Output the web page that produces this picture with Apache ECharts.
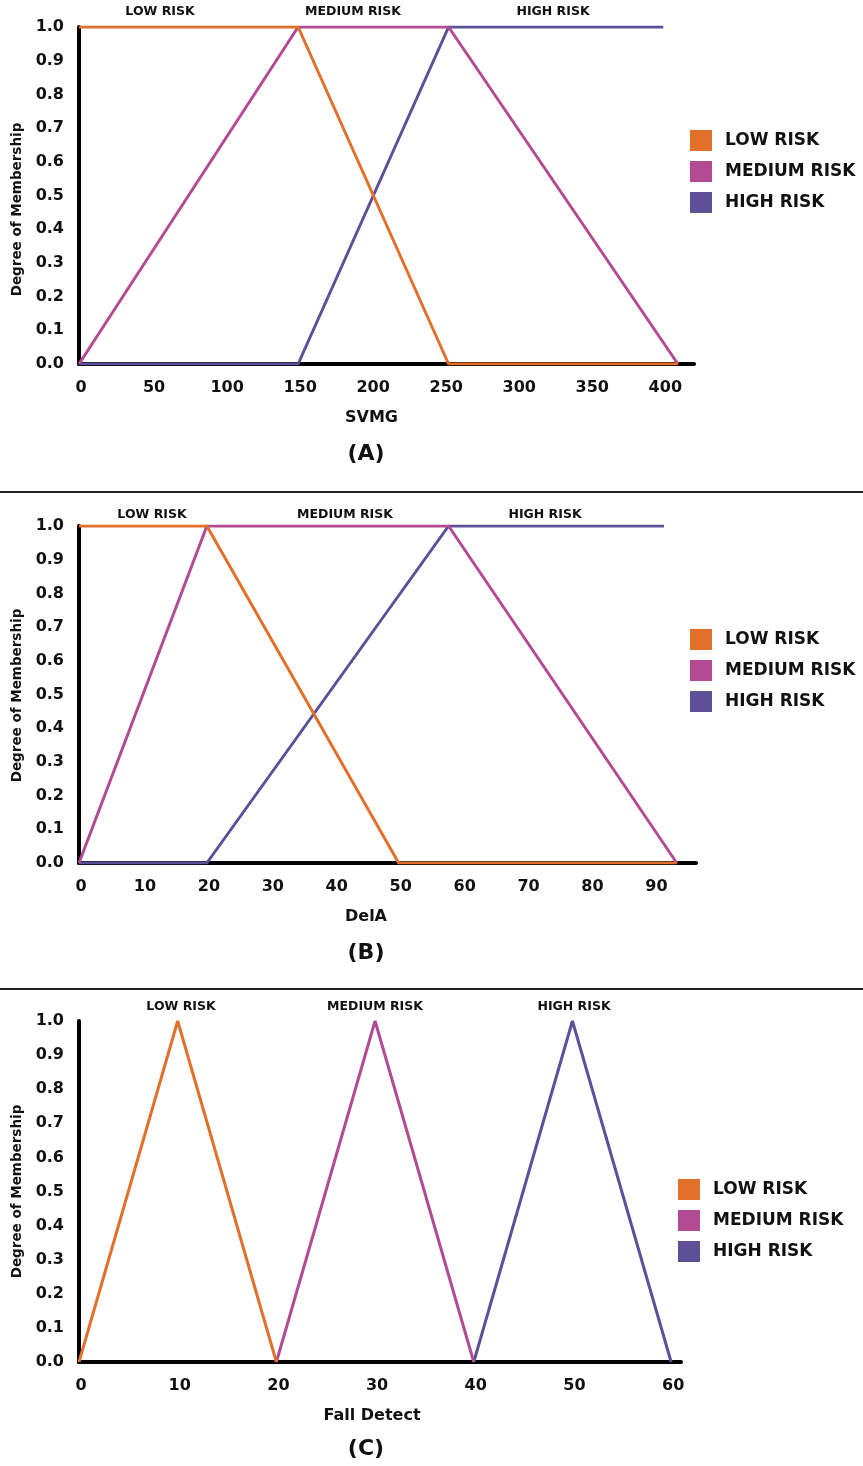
<!DOCTYPE html>
<html><head><meta charset="utf-8">
<script src="https://cdn.jsdelivr.net/npm/echarts@6/dist/echarts.min.js"></script>
<style>html,body{margin:0;padding:0;background:#fff}#c{width:863px;height:1466px}</style>
</head><body><div id="c"></div>
<script>
// ---- Data ----
const riskNames = ['LOW RISK', 'MEDIUM RISK', 'HIGH RISK'];
const riskColors = ['#E2702A', '#B24B94', '#5E5098'];
const yTicks = [0, 0.1, 0.2, 0.3, 0.4, 0.5, 0.6, 0.7, 0.8, 0.9, 1.0];

// Panel A: SVMG
const svmgTicks = [0, 50, 100, 150, 200, 250, 300, 350, 400];
const svmgLow = [[0, 1], [150, 1], [253, 0], [410, 0]];
const svmgMedium = [[0, 0], [150, 1], [253, 1], [410, 0]];
const svmgHigh = [[0, 0], [150, 0], [253, 1], [400, 1]];

// Panel B: DelA
const delaTicks = [0, 10, 20, 30, 40, 50, 60, 70, 80, 90];
const delaLow = [[0, 1], [20, 1], [50, 0], [93.5, 0]];
const delaMedium = [[0, 0], [20, 1], [57.8, 1], [93.5, 0]];
const delaHigh = [[0, 0], [20, 0], [57.8, 1], [91.5, 1]];

// Panel C: Fall Detect
const fallTicks = [0, 10, 20, 30, 40, 50, 60];
const fallLow = [[0, 0], [10, 1], [20, 0]];
const fallMedium = [[20, 0], [30, 1], [40, 0]];
const fallHigh = [[40, 0], [50, 1], [60, 0]];

const FONT = 'DejaVu Sans';
const panels = [
  {name: 'SVMG', tag: '(A)', ticks: svmgTicks, max: 421, series: [svmgLow, svmgMedium, svmgHigh],
   grid: {left: 79, top: 27, width: 615, height: 337}, namePad: [0, 30, 0, 0], yNamePad: [0, 28, 0, 0],
   top: [160, 353, 553], topY: 12, legendTop: 125, legendLeft: 685, tagY: 454},
  {name: 'DelA', tag: '(B)', ticks: delaTicks, max: 96.5, series: [delaLow, delaMedium, delaHigh],
   grid: {left: 79, top: 526, width: 617, height: 337}, namePad: [0, 43, 0, 0], yNamePad: [0, 2, 0, 0],
   top: [152, 345, 545], topY: 515, legendTop: 624, legendLeft: 685, tagY: 953},
  {name: 'Fall Detect', tag: '(C)', ticks: fallTicks, max: 61, series: [fallLow, fallMedium, fallHigh],
   grid: {left: 79, top: 1021, width: 602, height: 341}, namePad: [0, 16, 0, 0], yNamePad: [0, 0, 0, 0],
   top: [181, 375, 574], topY: 1007, legendTop: 1174, legendLeft: 673, tagY: 1449}
];

const chart = echarts.init(document.getElementById('c'));
const grids = [], xAxes = [], yAxes = [], series = [], legends = [], graphics = [];
panels.forEach((p, i) => {
  grids.push(Object.assign({containLabel: false}, p.grid));
  xAxes.push({
    type: 'value', gridIndex: i, min: 0, max: p.max, interval: p.ticks[1] - p.ticks[0],
    splitLine: {show: false}, axisTick: {show: false},
    axisLine: {show: true, onZero: false, lineStyle: {color: '#000', width: 4}},
    axisLabel: {show: true, margin: 16, color: '#111', fontFamily: FONT, fontWeight: 'bold', fontSize: 16,
      padding: [0, 0, 0, 4], showMaxLabel: false,
      formatter: v => (p.ticks.indexOf(v) >= 0 ? String(v) : '')},
    name: p.name, nameLocation: 'middle', nameGap: 46,
    nameTextStyle: {color: '#111', fontFamily: FONT, fontWeight: 'bold', fontSize: 16, padding: p.namePad}
  });
  yAxes.push({
    type: 'value', gridIndex: i, min: 0, max: 1, interval: 0.1,
    splitLine: {show: false}, axisTick: {show: false},
    axisLine: {show: true, lineStyle: {color: '#000', width: 4}},
    axisLabel: {margin: 15, color: '#111', fontFamily: FONT, fontWeight: 'bold', fontSize: 16,
      formatter: v => (yTicks.some(t => Math.abs(t - v) < 1e-9) ? v.toFixed(1) : '')},
    name: 'Degree of Membership', nameLocation: 'middle', nameGap: 52,
    nameTextStyle: {color: '#111', fontFamily: FONT, fontWeight: 'bold', fontSize: 13.5, padding: p.yNamePad}
  });
  p.series.forEach((d, k) => {
    series.push({
      type: 'line', name: riskNames[k], xAxisIndex: i, yAxisIndex: i, data: d,
      symbol: 'none', lineStyle: {width: 3, color: riskColors[k]}, itemStyle: {color: riskColors[k]},
      z: 3 + (k === 2 ? 0 : k === 0 ? 2 : 1), animation: false
    });
  });
  legends.push({
    orient: 'vertical', left: p.legendLeft, top: p.legendTop, itemWidth: 22, itemHeight: 21, itemGap: 10,
    icon: 'rect', data: riskNames, selectedMode: false,
    textStyle: {color: '#111', fontFamily: FONT, fontWeight: 'bold', fontSize: 17, padding: [0, 0, 0, 8]}
  });
  p.top.forEach((x, k) => {
    graphics.push({type: 'text', x: x, y: p.topY, style: {text: riskNames[k], fill: '#111',
      font: 'bold 12.5px "' + FONT + '"', textAlign: 'center', textVerticalAlign: 'middle'}});
  });
  graphics.push({type: 'text', x: 366, y: p.tagY, style: {text: p.tag, fill: '#111',
    font: 'bold 22px "' + FONT + '"', textAlign: 'center', textVerticalAlign: 'middle'}});
});
graphics.push({type: 'line', shape: {x1: 0, y1: 492, x2: 863, y2: 492}, style: {stroke: '#222', lineWidth: 2}});
graphics.push({type: 'line', shape: {x1: 0, y1: 989, x2: 863, y2: 989}, style: {stroke: '#222', lineWidth: 2}});

chart.setOption({
  animation: false,
  backgroundColor: '#fff',
  grid: grids, xAxis: xAxes, yAxis: yAxes, series: series, legend: legends, graphic: graphics
});
</script></body></html>
